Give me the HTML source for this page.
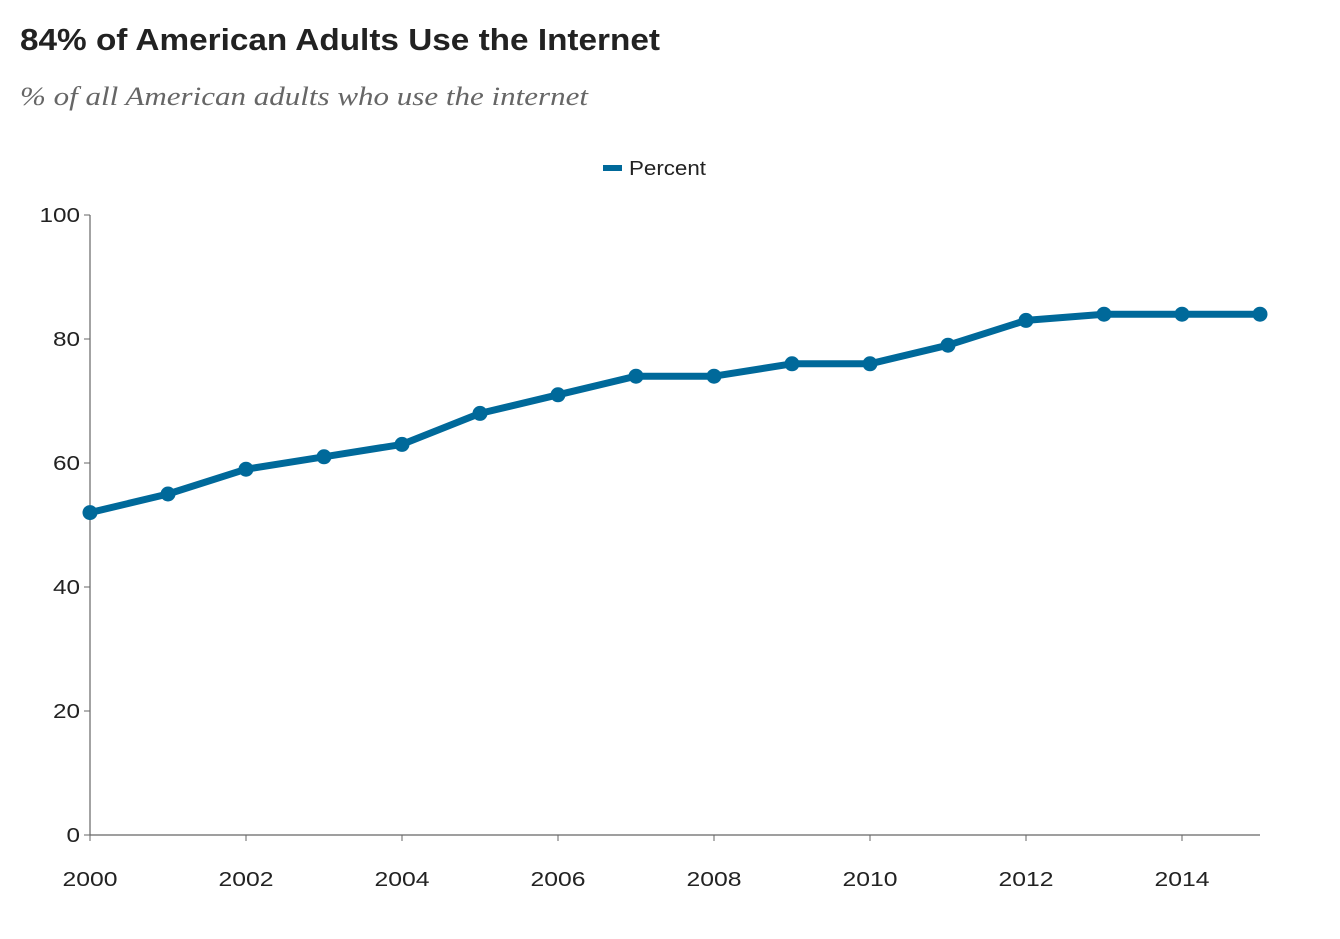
<!DOCTYPE html>
<html><head><meta charset="utf-8"><style>
body{margin:0;background:#fff;width:1340px;height:934px;overflow:hidden}
svg text{font-family:"Liberation Sans",sans-serif}
</style></head><body>
<svg width="1340" height="934">
<text x="20" y="50" font-size="31" font-weight="bold" fill="#222" textLength="640" lengthAdjust="spacingAndGlyphs">84% of American Adults Use the Internet</text>
<text x="20" y="105" font-size="26" font-style="italic" fill="#666" textLength="568" lengthAdjust="spacingAndGlyphs" style="font-family:'Liberation Serif',serif">% of all American adults who use the internet</text>
<g>
<line x1="603" y1="168" x2="622" y2="168" stroke="#00699a" stroke-width="6"/>
<text x="629" y="175" font-size="20" fill="#222" textLength="77" lengthAdjust="spacingAndGlyphs">Percent</text>
</g>
<g id="axes"></g>
<g id="marks"></g>
</svg>
<script>
const years=[2000,2001,2002,2003,2004,2005,2006,2007,2008,2009,2010,2011,2012,2013,2014,2015];
const values=[52,55,59,61,63,68,71,74,74,76,76,79,83,84,84,84];
const yTicks=[0,20,40,60,80,100];
const xTicks=[2000,2002,2004,2006,2008,2010,2012,2014];
const ns="http://www.w3.org/2000/svg";
const x=v=>90+(v-2000)*78;
const y=v=>835-v*6.2;
function mk(t,a,p){const e=document.createElementNS(ns,t);for(const k in a)e.setAttribute(k,a[k]);p.appendChild(e);return e;}
const ax=document.getElementById('axes'),mg=document.getElementById('marks');
let l=mk('line',{x1:90,y1:215,x2:90,y2:835,stroke:'#666','stroke-width':1.2},ax);


l=mk('line',{x1:90,y1:835,x2:1260,y2:835,stroke:'#666','stroke-width':1.2},ax);


yTicks.forEach(t=>{
 mk('line',{x1:84,y1:y(t),x2:90,y2:y(t),stroke:'#666'},ax);
 const e=mk('text',{x:80,y:y(t)+7,'text-anchor':'end','font-size':20,fill:'#222'},ax);
 e.textContent=t;
 e.setAttribute('textLength',String(t).length*13.5);
 e.setAttribute('lengthAdjust','spacingAndGlyphs');
 
 
});
xTicks.forEach(t=>{
 mk('line',{x1:x(t),y1:835,x2:x(t),y2:841,stroke:'#666'},ax);
 const e=mk('text',{x:x(t),y:886,'text-anchor':'middle','font-size':20,fill:'#222'},ax);
 e.textContent=t;
 e.setAttribute('textLength',55);
 e.setAttribute('lengthAdjust','spacingAndGlyphs');
 
 
});
const p=mk('polyline',{points:years.map((yr,i)=>x(yr)+','+y(values[i])).join(' '),fill:'none',stroke:'#00699a','stroke-width':7,'stroke-linejoin':'round'},mg);


years.forEach((yr,i)=>{
 const c=mk('circle',{cx:x(yr),cy:y(values[i]),r:7.5,fill:'#00699a'},mg);
 
 
});
</script>
</body></html>
